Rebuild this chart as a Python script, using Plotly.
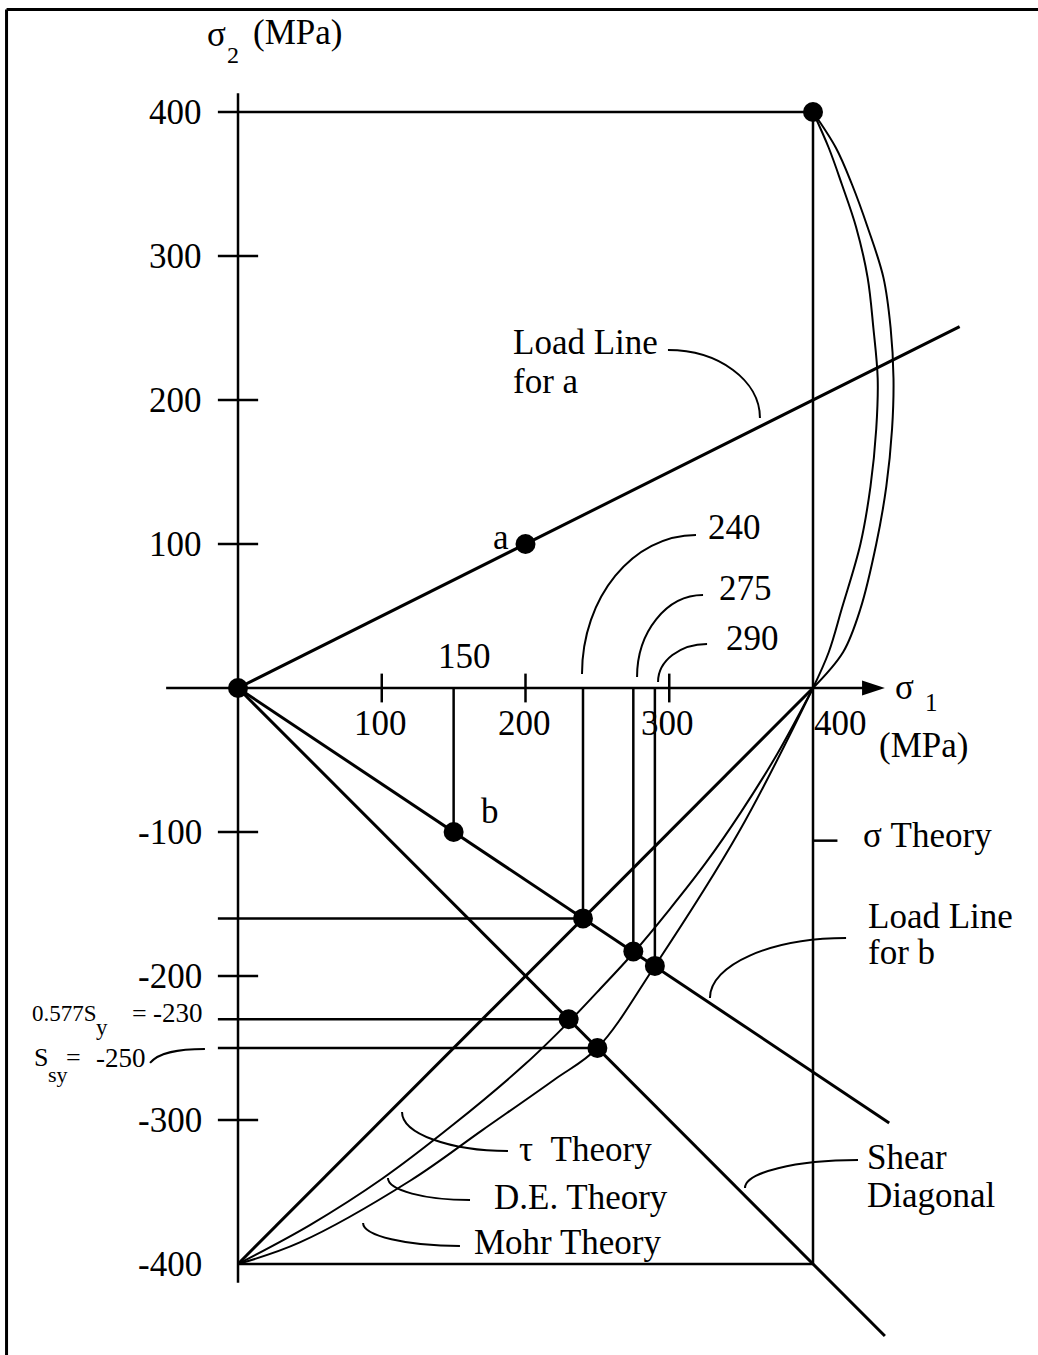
import plotly.graph_objects as go

FONT = "Liberation Serif"
INK = "black"

# ---------------- data (MPa) ----------------
# principal stress axes
s1_axis = [-50, 444]
s2_axis = [-413, 413]
s1_ticks = [100, 200, 300]
s1_tick_text = ["100", "200", "300"]
s2_ticks = [300, 200, 100, -100, -200, -300]
s2_label_values = [400, 300, 200, 100, -100, -200, -300, -400]
s2_label_text = ["400", "300", "200", "100", "-100", "-200", "-300", "-400"]

# yield strength (sigma theory square)
Sy = 400

# load points and load lines
a_s1, a_s2 = 200, 100
b_s1, b_s2 = 150, -100
load_a_s1 = [0, 200, 502]
load_a_s2 = [0, 100, 251]
load_b_s1 = [0, 150, 453]
load_b_s2 = [0, -100, -302]

# failure points on load line b (tau, D.E., Mohr)
fail_s1 = [240, 275, 290]
fail_s2 = [-160, -183, -193]

# shear diagonal and its points (0.577Sy, Ssy)
shear_s1 = [0, 250, 450]
shear_s2 = [0, -250, -450]
shear_pts_s1 = [230, 250]
shear_pts_s2 = [-230, -250]

# tau theory edge in the fourth quadrant
tau_s1 = [0, 400]
tau_s2 = [-400, 0]

# D.E. theory boundary, fourth quadrant
de_s1 = [400, 375, 350, 325, 300, 275, 250, 230, 200, 150, 100, 50, 0]
de_s2 = [0, -46, -86, -122, -154, -184, -211, -232, -261, -303, -341, -373, -400]

# Mohr theory boundary, fourth quadrant
mohr_s1 = [400, 349, 290, 250, 220, 170, 120, 43, 0]
mohr_s2 = [0, -99, -193, -250, -272, -307, -342, -385, -400]

# first-quadrant boundaries from (400, 400) down to (400, 0)
q1_s2 = [400, 375, 350, 320, 285, 250, 215, 180, 140, 100, 55, 25, 0]
q1_inner_s1 = [400, 411, 420, 430, 438, 442, 445, 444, 440, 433, 420, 411, 400]
q1_outer_s1 = [400, 416, 427, 438, 449, 454, 456, 455, 451, 444, 433, 421, 400]

# ---------------- styling ----------------
TICK_Y = 14      # half length of sigma2 ticks (in sigma1 units)
TICK_X = 10      # half length of sigma1 ticks (in sigma2 units)
AXIS_W = 2.5
LOAD_W = 3
CURVE_W = 2
LEADER_W = 2
DOT = 20
BIG = 35

fig = go.Figure()


def seg_trace(xs, ys, width):
    fig.add_trace(go.Scatter(x=xs, y=ys, mode="lines",
                             line=dict(color=INK, width=width),
                             hoverinfo="skip", showlegend=False))


def segments(pairs):
    xs, ys = [], []
    for (x0, y0, x1, y1) in pairs:
        xs += [x0, x1, None]
        ys += [y0, y1, None]
    return xs, ys


# axes
seg_trace(s1_axis, [0, 0], AXIS_W)
seg_trace([0, 0], s2_axis, AXIS_W)

# tick marks
xs, ys = segments([(t, TICK_X, t, -TICK_X) for t in s1_ticks])
seg_trace(xs, ys, AXIS_W)
xs, ys = segments([(-TICK_Y, t, TICK_Y, t) for t in s2_ticks])
seg_trace(xs, ys, AXIS_W)

# sigma theory square (first/fourth quadrant edges)
xs, ys = segments([(-TICK_Y, Sy, Sy, Sy), (Sy, Sy, Sy, -Sy), (0, -Sy, Sy, -Sy)])
seg_trace(xs, ys, AXIS_W)

# sigma theory tag
seg_trace([Sy, Sy + 17], [-106, -106], AXIS_W)

# drop lines to the sigma1 axis
drops = [(b_s1, 0, b_s1, b_s2)] + [(x, 0, x, y) for x, y in zip(fail_s1, fail_s2)]
xs, ys = segments(drops)
seg_trace(xs, ys, AXIS_W)

# horizontal reference lines to the sigma2 axis
refs = [(-TICK_Y, fail_s2[0], fail_s1[0], fail_s2[0])] + \
       [(-TICK_Y, y, x, y) for x, y in zip(shear_pts_s1, shear_pts_s2)]
xs, ys = segments(refs)
seg_trace(xs, ys, AXIS_W)

# load lines, shear diagonal, tau edge
seg_trace(load_a_s1, load_a_s2, LOAD_W)
seg_trace(load_b_s1, load_b_s2, LOAD_W)
seg_trace(shear_s1, shear_s2, LOAD_W)
seg_trace(tau_s1, tau_s2, LOAD_W)

# curved boundaries
for cx, cy in [(de_s1, de_s2), (mohr_s1, mohr_s2),
               (q1_inner_s1, q1_s2), (q1_outer_s1, q1_s2)]:
    fig.add_trace(go.Scatter(x=cx, y=cy, mode="lines",
                             line=dict(color=INK, width=CURVE_W, shape="spline", smoothing=1.0),
                             hoverinfo="skip", showlegend=False))

# points
pts_x = [0, a_s1, b_s1, Sy] + fail_s1 + shear_pts_s1
pts_y = [0, a_s2, b_s2, Sy] + fail_s2 + shear_pts_s2
fig.add_trace(go.Scatter(x=pts_x, y=pts_y, mode="markers",
                         marker=dict(color=INK, size=DOT, line=dict(width=0)),
                         hoverinfo="skip", showlegend=False))

# arrow head on the sigma1 axis
fig.add_trace(go.Scatter(x=[450], y=[0], mode="markers",
                         marker=dict(symbol="arrow", angle=90, size=24, color=INK,
                                     line=dict(width=0)),
                         hoverinfo="skip", showlegend=False))

# ---------------- leader curves ----------------
K = 0.5523


def arc(x0, y0, x1, y1, start="h"):
    if start == "h":
        c1 = (x0 + K * (x1 - x0), y0)
        c2 = (x1, y1 + K * (y0 - y1))
    else:
        c1 = (x0, y0 + K * (y1 - y0))
        c2 = (x1 + K * (x0 - x1), y1)
    return f"M {x0},{y0} C {c1[0]},{c1[1]} {c2[0]},{c2[1]} {x1},{y1}"


leaders = [
    arc(299.1, 234.7, 363.1, 187.5, "h"),     # load line for a
    arc(318.6, 106.3, 239.3, 9.7, "h"),       # 240
    arc(323.5, 64.6, 277.6, 7.6, "h"),        # 275
    arc(326.3, 30.6, 292.2, 4.2, "h"),        # 290
    arc(423.0, -173.6, 328.3, -215.3, "h"),   # load line for b
    arc(431.3, -327.8, 352.7, -347.2, "h"),   # shear diagonal
    arc(114.1, -294.4, 187.8, -321.5, "v"),   # tau theory
    arc(104.3, -340.3, 161.4, -355.6, "v"),   # D.E. theory
    arc(87.0, -371.5, 154.4, -387.5, "v"),    # Mohr theory
    "M -61.2,-260.4 C -55,-253 -42,-250.7 -23,-250.7",  # Ssy
]

shapes = [dict(type="path", path=p, xref="x", yref="y",
               line=dict(color=INK, width=LEADER_W)) for p in leaders]

# page frame (top and left edges)
shapes.append(dict(type="line", xref="paper", yref="paper",
                   x0=0.0063, x1=1.0, y0=1 - 9.5 / 1355, y1=1 - 9.5 / 1355,
                   line=dict(color=INK, width=3)))
shapes.append(dict(type="line", xref="paper", yref="paper",
                   x0=0.0063, x1=0.0063, y0=0, y1=1 - 9.5 / 1355,
                   line=dict(color=INK, width=3)))

# ---------------- text ----------------
annotations = []


def label(text, x, y, size=BIG, xanchor="left", yanchor="middle"):
    annotations.append(dict(text=text, x=x, y=y, xref="x", yref="y",
                            showarrow=False, xanchor=xanchor, yanchor=yanchor,
                            borderpad=0,
                            font=dict(size=size, family=FONT, color=INK)))


for v, t in zip(s2_label_values, s2_label_text):
    label(t, -24.3, v, xanchor="right")
for v, t in zip(s1_ticks, s1_tick_text):
    label(t, v - 1, -24.3, xanchor="center")
label("400", 418.8, -24.3, xanchor="center")
label("(MPa)", 477.2, -39.6, xanchor="center")

label("σ", 463.5, 0.5, xanchor="center")
label("1", 482.5, -10.4, size=25, xanchor="center")

label("σ", -15.3, 453.8, xanchor="center")
label("2", -3.5, 439.6, size=24, xanchor="center")
label("(MPa)", 9.7, 455.2)

label("Load Line", 190.6, 239.6)
label("for a", 190.6, 213.2)
label("a", 183.0, 104.6, xanchor="center")
label("b", 175.3, -86.1, xanchor="center")

label("150", 157.9, 22.2, xanchor="center")
label("240", 345.7, 111.8, xanchor="center")
label("275", 352.7, 69.4, xanchor="center")
label("290", 357.6, 34.7, xanchor="center")

label("σ Theory", 434.1, -102.4)
label("Load Line", 437.6, -159.0)
label("for b", 437.6, -184.0)
label("Shear", 436.9, -325.7)
label("Diagonal", 436.9, -352.1)

label("τ\u00a0 Theory", 194.8, -320.8)
label("D.E. Theory", 177.4, -353.5)
label("Mohr Theory", 163.5, -385.4)

# shear strength call-outs on the sigma2 side
label("0.577S", -144.2, -225.7, size=23)
label("y", -99.5, -235.5, size=23)
label("=", -68.2, -225.7, size=26, xanchor="center")
label("-230", -59.8, -225.7, size=27)
label("S", -142.6, -256.9, size=26)
label("sy", -132.9, -268.5, size=22)
label("=", -114.4, -256.9, size=26, xanchor="center")
label("-250", -99.5, -256.9, size=27)

fig.update_layout(
    width=1038, height=1355,
    margin=dict(l=0, r=0, t=0, b=0),
    paper_bgcolor="white", plot_bgcolor="white",
    showlegend=False,
    xaxis=dict(range=[-165.57, 556.52], visible=False, fixedrange=True),
    yaxis=dict(range=[-463.19, 477.78], visible=False, fixedrange=True),
    shapes=shapes,
    annotations=annotations,
    font=dict(family=FONT, color=INK),
)

fig.write_html("out.html")
